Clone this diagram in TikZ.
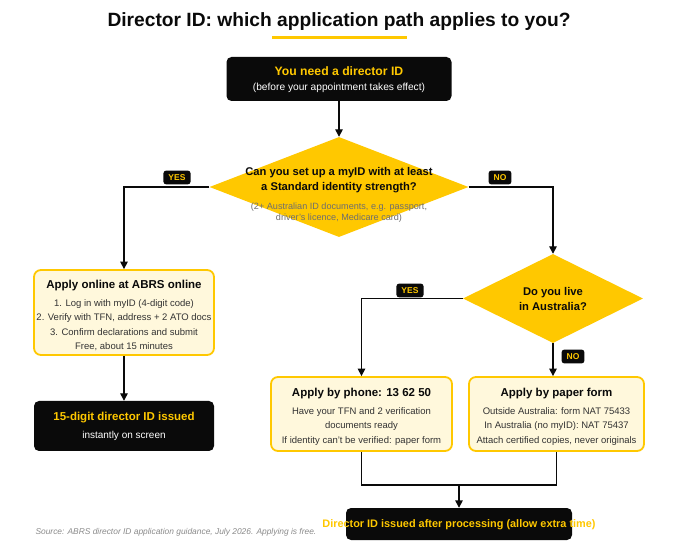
\documentclass[tikz,border=0pt]{standalone}
\usepackage{fontspec}
\setmainfont{Liberation Sans}
\usetikzlibrary{shapes.geometric,arrows.meta}
\definecolor{ylw}{HTML}{FFC800}
\definecolor{pale}{HTML}{FFF8DC}
\definecolor{blk}{HTML}{0A0A0A}
\definecolor{gry}{HTML}{6E6E6E}
\definecolor{txt}{HTML}{333333}
\newcommand{\fsz}[2]{\fontsize{#1}{#2}\selectfont}
\begin{document}
\begin{tikzpicture}[x=1pt,y=-1pt,
  darkbox/.style={fill=blk, rounded corners=5pt, inner sep=0pt, align=center},
  palebox/.style={fill=pale, draw=ylw, line width=1.8pt, rounded corners=7pt, inner sep=0pt, align=center},
  decision/.style={diamond, fill=ylw, inner sep=0pt, aspect=2.6},
  flow/.style={line width=1.4pt, draw=blk},
  arr/.style={flow, -{Triangle[length=7.5pt,width=7.5pt]}},
  tag/.style={fill=blk, text=ylw, font=\bfseries\fsz{8.5}{9}, rounded corners=2.5pt, inner xsep=5pt, inner ysep=3.8pt},
  ttl/.style={text=ylw, font=\bfseries\fsz{11.5}{14}},
  btl/.style={text=blk, font=\bfseries\fsz{11.5}{14}},
  body/.style={text=txt, font=\fsz{9.5}{14.5}, align=center},
]
\useasboundingbox (0,0) rectangle (678,553);
\fill[white] (0,0) rectangle (678,553);

% title
\node[font=\bfseries\fsz{19.2}{22}, text=blk] (title) at (339,22) {Director ID: which application path applies to you?};
\draw[ylw, line width=3pt] (272,38) coordinate (ul1) -- (407,38) coordinate (ul2);

% start
\node[darkbox, minimum width=225pt, minimum height=44pt] (start) at (339,79) {};
\node[ttl, font=\bfseries\fsz{12.2}{14}] (startt) at (339,71) {You need a director ID};
\node[text=white, font=\fsz{10.2}{12}] (starts) at (339,88) {(before your appointment takes effect)};

% decision 1
\node[decision, minimum width=259pt, minimum height=100pt] (d1) at (339,187) {};
\node[font=\bfseries\fsz{11.2}{15}, text=blk, align=center] (d1t) at (339,180.5) {Can you set up a myID with at least\\a Standard identity strength?};
\node[font=\fsz{9.1}{11}, text=gry, align=center] (d1g) at (339,212.5) {(2+ Australian ID documents, e.g. passport,\\driver's licence, Medicare card)};

% decision 2
\node[decision, minimum width=180pt, minimum height=89pt] (d2) at (553,298.5) {};
\node[font=\bfseries\fsz{11.2}{15}, text=blk, align=center] (d2t) at (553,298.5) {Do you live\\in Australia?};

% online box
\node[palebox, minimum width=180pt, minimum height=85pt] (online) at (124,312.5) {};
\node[btl] (onlinet) at (124,286) {Apply online at ABRS online};
\node[body, anchor=north] (onlineb) at (124,296) {1. Log in with myID (4-digit code)\\2. Verify with TFN, address + 2 ATO docs\\3. Confirm declarations and submit\\Free, about 15 minutes};

% 15-digit
\node[darkbox, minimum width=180pt, minimum height=50pt] (instant) at (124,426) {};
\node[ttl] (instantt) at (124,418) {15-digit director ID issued};
\node[text=white, font=\fsz{10}{11}] (instants) at (124,436) {instantly on screen};

% phone
\node[palebox, minimum width=181pt, minimum height=74pt] (phone) at (361.5,414) {};
\node[btl] (phonet) at (361.5,394) {Apply by phone: 13 62 50};
\node[body, anchor=north] (phoneb) at (361.5,404) {Have your TFN and 2 verification\\documents ready\\If identity can't be verified: paper form};

% paper
\node[palebox, minimum width=175pt, minimum height=74pt] (paper) at (556.5,414) {};
\node[btl] (papert) at (556.5,394) {Apply by paper form};
\node[body, anchor=north] (paperb) at (556.5,404) {Outside Australia: form NAT 75433\\In Australia (no myID): NAT 75437\\Attach certified copies, never originals};

% final
\node[darkbox, minimum width=226pt, minimum height=32pt] (final) at (459,524) {};
\node[ttl, font=\bfseries\fsz{10.9}{12}] (finalt) at (459,525) {Director ID issued after processing (allow extra time)};

% source
\node[anchor=west, text=gry!80, font=\itshape\fsz{8.4}{9}] (src) at (32,532) {Source: ABRS director ID application guidance, July 2026. Applying is free.};

% connectors
\draw[arr] (start.south) -- (d1.north);
\draw[arr] (d1.west) -| (online.north);
\draw[arr] (d1.east) -| (d2.north);
\draw[arr] (d2.west) -| (phone.north);
\draw[arr] (d2.south) -- (d2.south |- paper.north);
\draw[arr] (online.south) -- (instant.north);
\coordinate (m) at (459,485);
\draw[flow] (phone.south) |- (m) -| (paper.south);
\draw[arr] (m) -- (final.north);

% tags
\node[tag] (yes1) at (177,177.5) {YES};
\node[tag] (no1) at (500,177.5) {NO};
\node[tag] (yes2) at (410,290.5) {YES};
\node[tag] (no2) at (573,356.5) {NO};
\end{tikzpicture}
\end{document}
